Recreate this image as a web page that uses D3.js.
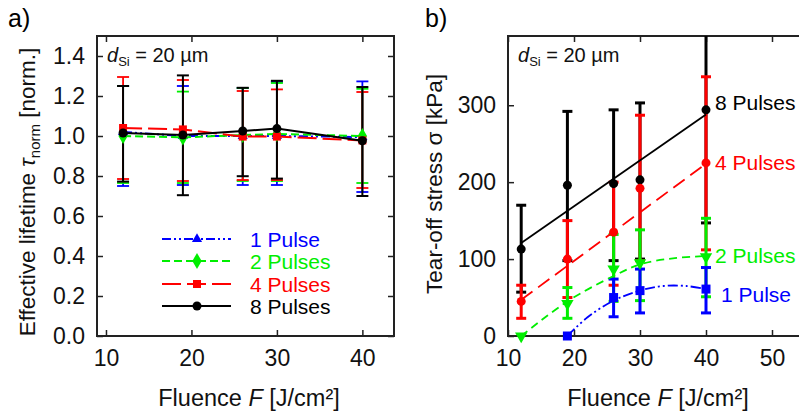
<!DOCTYPE html>
<html><head><meta charset="utf-8">
<script src="https://cdn.jsdelivr.net/npm/d3@7"></script>
<style>
body{margin:0;background:#fff;}
text{font-family:"Liberation Sans",Arial,sans-serif;}
</style></head>
<body><svg id="c" width="799" height="416"></svg>
<script>
// ---------- Data ----------
const fluence = [12, 19, 26, 30, 40];
const seriesNamesA = ["1 Pulse", "2 Pulses", "4 Pulses", "8 Pulses"];
// Panel a) normalized effective lifetime
const tau1 = [1.02, 1.00, 1.00, 1.00, 0.995];
const tau1Lo = [0.75, 0.755, 0.755, 0.755, 0.72];
const tau1Hi = [1.25, 1.25, 1.24, 1.27, 1.273];
const tau2 = [1.00, 0.993, 1.005, 1.01, 1.0];
const tau2Lo = [0.765, 0.765, 0.775, 0.775, 0.765];
const tau2Hi = [1.25, 1.222, 1.24, 1.265, 1.236];
const tau4 = [1.04, 1.033, 0.997, 0.997, 0.978];
const tau4Lo = [0.785, 0.775, 0.78, 0.78, 0.74];
const tau4Hi = [1.295, 1.28, 1.225, 1.233, 1.22];
const tau8 = [1.015, 1.005, 1.025, 1.037, 0.976];
const tau8Lo = [0.772, 0.704, 0.799, 0.787, 0.70];
const tau8Hi = [1.25, 1.303, 1.241, 1.276, 1.245];
const ticksXA = [10, 20, 30, 40];
const ticksYA = [0, 0.2, 0.4, 0.6, 0.8, 1.0, 1.2, 1.4];

// Panel b) tear-off stress (kPa)
const fluence1 = [19, 26, 30, 40];
const sigma1 = [0, 50, 59, 61];
const sigma1Lo = [0, 25, 30, 30];
const sigma1Hi = [0, 74, 87, 89];
const fluence2 = [12, 19, 26, 30, 40];
const sigma2 = [0, 42, 87, 95, 103];
const sigma2Lo = [0, 23, 45, 46, 51];
const sigma2Hi = [0, 63, 132, 138, 153];
const sigma4 = [45, 100, 135, 192, 225];
const sigma4Lo = [23, 50, 66, 98, 112];
const sigma4Hi = [66, 150, 200, 287, 337];
const sigma8 = [113, 196, 198, 203, 294];
const sigma8Lo = [57, 98, 98, 100, 147];
const sigma8Hi = [170, 292, 294, 303, 420];
// fitted trend curves
const fit1F = [19, 22, 26, 30, 33.5, 37, 40];
const fit1S = [0, 24, 46, 59, 65, 65, 61];
const fit2F = [12, 19, 26, 30, 35, 40];
const fit2S = [0, 45, 78, 93, 101, 104];
const fit4F = [12, 40];
const fit4S = [47, 224];
const fit8F = [12, 40];
const fit8S = [121, 288];
const ticksXB = [10, 20, 30, 40, 50];
const ticksYB = [0, 100, 200, 300];

const BLUE = "#0000ff", GREEN = "#00ee00", RED = "#ff0000", BLACK = "#000000";

const svg = d3.select("#c");
const defs = svg.append("defs");

function frame(g, x, y, xt, yt, xfmt, yfmt, id) {
  const [x0, x1] = x.range(), [y0, y1] = y.range();
  defs.append("clipPath").attr("id", id).append("rect")
    .attr("x", x0).attr("y", y1).attr("width", x1 - x0).attr("height", y0 - y1);
  const axB = d3.axisBottom(x).tickValues(xt).tickFormat(xfmt).tickSizeInner(-6).tickSizeOuter(0).tickPadding(14);
  const axT = d3.axisTop(x).tickValues(xt).tickFormat("").tickSizeInner(-6).tickSizeOuter(0);
  const axL = d3.axisLeft(y).tickValues(yt).tickFormat(yfmt).tickSizeInner(-6).tickSizeOuter(0).tickPadding(12);
  const axR = d3.axisRight(y).tickValues(yt).tickFormat("").tickSizeInner(-6).tickSizeOuter(0);
  g.append("g").attr("transform", `translate(0,${y0})`).call(axB);
  g.append("g").attr("transform", `translate(0,${y1})`).call(axT);
  g.append("g").attr("transform", `translate(${x0},0)`).call(axL);
  g.append("g").attr("transform", `translate(${x1},0)`).call(axR);
  g.selectAll(".domain").remove();
  g.selectAll(".tick line").attr("stroke", "#222").attr("stroke-width", 1.5);
  g.selectAll(".tick text").attr("font-size", 23).attr("fill", "#111")
    .attr("font-family", '"Liberation Sans",Arial,sans-serif');
  g.append("rect").attr("x", x0).attr("y", y1).attr("width", x1 - x0).attr("height", y0 - y1)
    .attr("fill", "none").attr("stroke", "#222").attr("stroke-width", 2);
}

function marker(g, type, cx, cy, color, s) {
  if (type === "circle") {
    g.append("circle").attr("cx", cx).attr("cy", cy).attr("r", s / 2).attr("fill", color);
  } else {
    const sym = {square: d3.symbolSquare, triangle: d3.symbolTriangle, diamond: d3.symbolDiamond, tridown: d3.symbolTriangle}[type];
    const area = type === "square" ? s * s : type === "diamond" ? s * s * 0.75 : s * s * 0.55;
    const p = g.append("path").attr("d", d3.symbol(sym, area)()).attr("fill", color);
    p.attr("transform", `translate(${cx},${cy})` + (type === "tridown" ? " rotate(180)" : ""));
  }
}

function errorBars(g, x, y, fx, lo, hi, color, w, cap) {
  fx.forEach((f, i) => {
    if (lo[i] === hi[i]) return;
    const px = x(f);
    g.append("line").attr("x1", px).attr("x2", px).attr("y1", y(lo[i])).attr("y2", y(hi[i]))
      .attr("stroke", color).attr("stroke-width", w);
    [lo[i], hi[i]].forEach(v => {
      g.append("line").attr("x1", px - cap / 2).attr("x2", px + cap / 2).attr("y1", y(v)).attr("y2", y(v))
        .attr("stroke", color).attr("stroke-width", w);
    });
  });
}

// ---------- Panel a ----------
const xA = d3.scaleLinear().domain([8.95, 43.7]).range([97, 394]);
const yA = d3.scaleLinear().domain([0, 1.5]).range([336, 36]);
const gA = svg.append("g");
frame(gA, xA, yA, ticksXA, ticksYA, d3.format("d"), d3.format(".1f"), "clipA");

const seriesA = [
  {v: tau1, lo: tau1Lo, hi: tau1Hi, c: BLUE, dash: "9,3,2,3,2,3", m: "triangle", ms: 9, name: seriesNamesA[0]},
  {v: tau2, lo: tau2Lo, hi: tau2Hi, c: GREEN, dash: "8,4", m: "diamond", ms: 10, name: seriesNamesA[1]},
  {v: tau4, lo: tau4Lo, hi: tau4Hi, c: RED, dash: "19,6", m: "square", ms: 8, name: seriesNamesA[2]},
  {v: tau8, lo: tau8Lo, hi: tau8Hi, c: BLACK, dash: null, m: "circle", ms: 9, name: seriesNamesA[3]}
];
const pA = gA.append("g").attr("clip-path", "url(#clipA)");
seriesA.forEach(s => errorBars(pA, xA, yA, fluence, s.lo, s.hi, s.c, s.c === BLACK ? 2 : 1.8, 12));
const lineA = d3.line().x(d => xA(d[0])).y(d => yA(d[1]));
seriesA.forEach(s => {
  pA.append("path").attr("d", lineA(fluence.map((f, i) => [f, s.v[i]])))
    .attr("fill", "none").attr("stroke", s.c).attr("stroke-width", 2)
    .attr("stroke-dasharray", s.dash);
  fluence.forEach((f, i) => marker(pA, s.m, xA(f), yA(s.v[i]), s.c, s.ms));
});
// legend
const legY = [239, 261, 284, 306];
seriesA.forEach((s, i) => {
  const lg = gA.append("g");
  lg.append("line").attr("x1", 162).attr("x2", 231).attr("y1", legY[i]).attr("y2", legY[i])
    .attr("stroke", s.c).attr("stroke-width", 2).attr("stroke-dasharray", s.dash);
  marker(lg, s.m, 197, legY[i], s.c, s.ms);
  lg.append("text").attr("x", 250).attr("y", legY[i] + 7.5).attr("font-size", 21)
    .attr("fill", s.c).text(s.name);
});

// ---------- Panel b ----------
const xB = d3.scaleLinear().domain([10, 55]).range([508, 805]);
const yB = d3.scaleLinear().domain([0, 390]).range([336, 36]);
const gB = svg.append("g");
frame(gB, xB, yB, ticksXB, ticksYB, d3.format("d"), d3.format("d"), "clipB");
const pB = gB.append("g").attr("clip-path", "url(#clipB)");
const pBo = gB.append("g");
const seriesB = [
  {f: fluence, v: sigma8, lo: sigma8Lo, hi: sigma8Hi, c: BLACK, m: "circle", ms: 9, fitF: fit8F, fitS: fit8S, dash: null, name: "8 Pulses"},
  {f: fluence, v: sigma4, lo: sigma4Lo, hi: sigma4Hi, c: RED, m: "circle", ms: 9, fitF: fit4F, fitS: fit4S, dash: "14,7", name: "4 Pulses"},
  {f: fluence2, v: sigma2, lo: sigma2Lo, hi: sigma2Hi, c: GREEN, m: "tridown", ms: 11, fitF: fit2F, fitS: fit2S, dash: "8,5", name: "2 Pulses"},
  {f: fluence1, v: sigma1, lo: sigma1Lo, hi: sigma1Hi, c: BLUE, m: "square", ms: 9, fitF: fit1F, fitS: fit1S, dash: "10,3,2,3,2,3", name: "1 Pulse"}
];
seriesB.forEach(s => errorBars(pB, xB, yB, s.f, s.lo, s.hi, s.c, 3, 10));
const fitLine = d3.line().x(d => xB(d[0])).y(d => yB(d[1])).curve(d3.curveCatmullRom);
seriesB.forEach(s => {
  pB.append("path").attr("d", fitLine(s.fitF.map((f, i) => [f, s.fitS[i]])))
    .attr("fill", "none").attr("stroke", s.c).attr("stroke-width", 1.8).attr("stroke-dasharray", s.dash);
});
seriesB.forEach(s => s.f.forEach((f, i) => marker(pBo, s.m, xB(f), yB(s.v[i]), s.c, s.ms)));
// end labels
const labOff = [[9, 0], [9, 7.5], [9, 6.5], [15, 12.5]];
seriesB.forEach((s, i) => {
  const last = s.v.length - 1;
  gB.append("text").attr("x", xB(s.f[last]) + labOff[i][0]).attr("y", yB(s.v[last]) + labOff[i][1])
    .attr("font-size", 21).attr("fill", s.c).text(s.name);
});

// ---------- Titles ----------
svg.append("text").attr("x", 8).attr("y", 27).attr("font-size", 25).text("a)");
svg.append("text").attr("x", 425).attr("y", 27).attr("font-size", 25).text("b)");
function dsi(x, y) {
  const t = svg.append("text").attr("x", x).attr("y", y).attr("font-size", 20)
    .attr("font-family", '"Open Sans",sans-serif').attr("fill", "#111");
  t.append("tspan").attr("font-style", "italic").text("d");
  t.append("tspan").attr("font-size", 13).attr("dy", 4).text("Si");
  t.append("tspan").attr("dy", -4).text(" = 20 µm");
}
dsi(107, 62);
dsi(518, 62);

function xTitle(cx) {
  const t = svg.append("text").attr("x", cx).attr("y", 406).attr("font-size", 23.5)
    .attr("text-anchor", "middle").attr("fill", "#111");
  t.append("tspan").text("Fluence ");
  t.append("tspan").attr("font-style", "italic").text("F");
  t.append("tspan").text(" [J/cm²]");
}
xTitle(249);
xTitle(658);

const yt1 = svg.append("text").attr("transform", "translate(35,192) rotate(-90)")
  .attr("text-anchor", "middle").attr("font-size", 22.5).attr("fill", "#111");
yt1.append("tspan").text("Effective lifetime ");
yt1.append("tspan").attr("font-style", "italic").text("τ");
yt1.append("tspan").attr("font-size", 15).attr("dy", 5).text("norm");
yt1.append("tspan").attr("dy", -5).text(" [norm.]");

svg.append("text").attr("transform", "translate(442,184) rotate(-90)")
  .attr("text-anchor", "middle").attr("font-size", 22.5).attr("fill", "#111")
  .text("Tear-off stress σ [kPa]");
</script></body></html>
